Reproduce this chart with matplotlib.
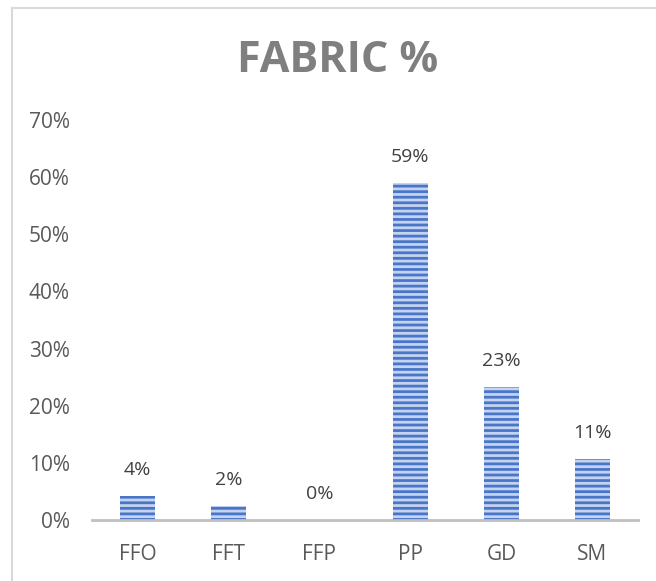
import matplotlib.pyplot as plt
from matplotlib.lines import Line2D

plt.rcParams['font.family'] = ['Open Sans', 'DejaVu Sans']
plt.rcParams['hatch.linewidth'] = 2.0

# data
categories = ['FFO', 'FFT', 'FFP', 'PP', 'GD', 'SM']
values = [0.042, 0.024, 0.0, 0.59, 0.233, 0.107]
yticks = [0, 0.1, 0.2, 0.3, 0.4, 0.5, 0.6, 0.7]

fig = plt.figure(figsize=(6.56, 5.81), dpi=100)
ax = fig.add_axes([92 / 656, 61 / 581, 546 / 656, 400 / 581])

bars = ax.bar(categories, values, width=0.38, color='#c3d3f1',
              edgecolor='#4a76c8', hatch='---', linewidth=0)

# value labels
for b, v in zip(bars, values):
    ax.text(b.get_x() + b.get_width() / 2, v + 0.03, f'{v:.0%}',
            ha='center', va='bottom', fontsize=14, color='#404040')

ax.set_ylim(0, 0.7)
ax.set_xlim(-0.5, 5.5)
ax.set_yticks(yticks)
ax.set_yticklabels([f'{t:.0%}' for t in yticks])
ax.tick_params(axis='both', length=0, labelsize=15, colors='#595959')
ax.tick_params(axis='x', pad=17)
ax.tick_params(axis='y', pad=16)
for s in ['top', 'right', 'left']:
    ax.spines[s].set_visible(False)
ax.spines['bottom'].set_color('#bfbfbf')
ax.spines['bottom'].set_linewidth(2)

fig.text(338 / 656, 1 - 60 / 581, 'FABRIC %', ha='center', va='center',
         fontsize=31, fontweight='bold', color='#7f7f7f')

# chart frame
fig.add_artist(Line2D([12 / 656, 12 / 656], [0, 1 - 8 / 581],
                      transform=fig.transFigure, color='#d9d9d9', lw=1.5))
fig.add_artist(Line2D([12 / 656, 1], [1 - 8 / 581, 1 - 8 / 581],
                      transform=fig.transFigure, color='#d9d9d9', lw=1.5))

plt.savefig('out.png', dpi=100)
